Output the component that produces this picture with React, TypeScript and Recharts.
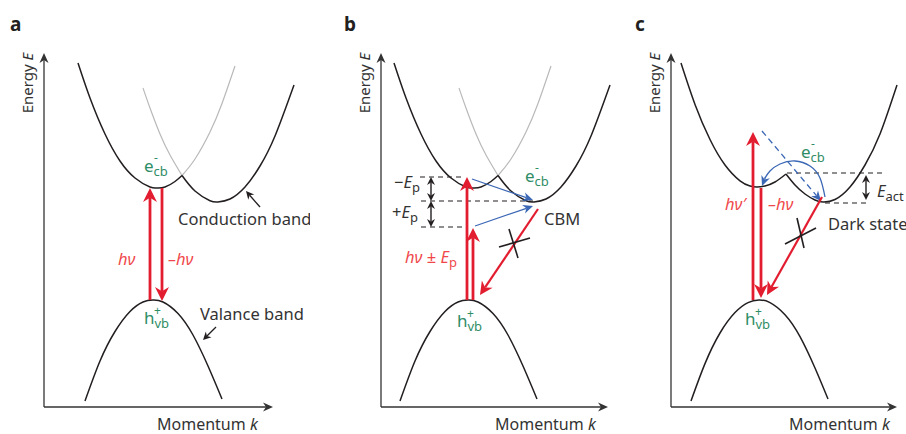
import { LineChart, Line, XAxis, YAxis, ReferenceLine, ReferenceDot } from "recharts";

// units: k = momentum, E = energy, both measured from each panel's origin
type Pt = { k: number; E: number };
type Seg = { k1: number; E1: number; k2: number; E2: number };
type Lbl = { type: string; k: number; E: number; text: string };

const FONT = '"Noto Sans", "Open Sans", sans-serif';
const INK = "#231f20";
const TEXT = "#333333";
const GREY = "#b9b9b9";
const RED = "#e21d30";
const RED_TEXT = "#f0484a";
const GREEN = "#2f8d66";
const BLUE = "#3b67b5";

// ---------- panel a ----------
const aCbLeft: Pt[] = [
  { k: 34, E: 344 }, { k: 46, E: 309 }, { k: 61, E: 273 }, { k: 76, E: 246 }, { k: 91, E: 229 },
  { k: 106, E: 220 }, { k: 113, E: 219 }, { k: 121, E: 220 }, { k: 131, E: 225.5 }, { k: 138, E: 231.5 },
];
const aCbRight: Pt[] = [
  { k: 138, E: 231.5 }, { k: 151, E: 216 }, { k: 166, E: 206.3 }, { k: 174, E: 205 }, { k: 186, E: 208 },
  { k: 201, E: 220 }, { k: 216, E: 241 }, { k: 231, E: 271 }, { k: 250, E: 322 },
];
const aGhost1: Pt[] = [{ k: 138, E: 231.5 }, { k: 151, E: 248 }, { k: 166, E: 275 }, { k: 178, E: 303.5 }, { k: 191, E: 341 }];
const aGhost2: Pt[] = [{ k: 138, E: 231.5 }, { k: 126, E: 252 }, { k: 116, E: 273 }, { k: 106, E: 299 }, { k: 99, E: 319 }];
const aVb: Pt[] = [
  { k: 41, E: 6 }, { k: 56, E: 46 }, { k: 71, E: 75.5 }, { k: 86, E: 95.5 }, { k: 99, E: 105 }, { k: 109, E: 107 },
  { k: 119, E: 105 }, { k: 134, E: 93.5 }, { k: 149, E: 72 }, { k: 164, E: 41 }, { k: 178, E: 8 },
];
const aPhoton: Seg[] = [
  { k1: 106, E1: 107, k2: 106, E2: 219 },
  { k1: 118, E1: 219, k2: 118, E2: 106 },
];
const aPointer: Seg[] = [
  { k1: 216, E1: 200, k2: 202, E2: 216 },
  { k1: 172, E1: 80, k2: 159, E2: 67 },
];
const aLabels: Lbl[] = [
  { type: "letter", k: -34, E: 376, text: "a" },
  { type: "energy", k: -11, E: 324, text: "Energy" },
  { type: "momentum", k: 113, E: -23, text: "Momentum" },
  { type: "ecb", k: 100, E: 235, text: "e" },
  { type: "plain", k: 134, E: 182, text: "Conduction band" },
  { type: "red", k: 74, E: 142, text: "hν" },
  { type: "red", k: 124, E: 142, text: "–hν" },
  { type: "plain", k: 156, E: 87, text: "Valance band" },
  { type: "hvb", k: 100, E: 83, text: "h" },
];

// ---------- panel b ----------
const bCbLeft: Pt[] = [
  { k: 13, E: 344 }, { k: 25, E: 309 }, { k: 40, E: 273 }, { k: 55, E: 246 }, { k: 70, E: 229 },
  { k: 85, E: 220 }, { k: 92, E: 219 }, { k: 100, E: 220 }, { k: 110, E: 225.5 }, { k: 117, E: 231.5 },
];
const bCbRight: Pt[] = [
  { k: 117, E: 231.5 }, { k: 130, E: 216 }, { k: 145, E: 206.3 }, { k: 153, E: 205 }, { k: 165, E: 208 },
  { k: 180, E: 220 }, { k: 195, E: 241 }, { k: 210, E: 271 }, { k: 229, E: 322 },
];
const bGhost1: Pt[] = [{ k: 117, E: 231.5 }, { k: 130, E: 248 }, { k: 145, E: 275 }, { k: 157, E: 303.5 }, { k: 170, E: 341 }];
const bGhost2: Pt[] = [{ k: 117, E: 231.5 }, { k: 105, E: 252 }, { k: 95, E: 273 }, { k: 85, E: 299 }, { k: 78, E: 319 }];
const bVb: Pt[] = [
  { k: 19, E: 6 }, { k: 34, E: 46 }, { k: 49, E: 75.5 }, { k: 64, E: 95.5 }, { k: 77, E: 105 }, { k: 87, E: 107 },
  { k: 97, E: 105 }, { k: 112, E: 93.5 }, { k: 127, E: 72 }, { k: 142, E: 41 }, { k: 156, E: 8 },
];
const bPhoton: Seg[] = [
  { k1: 86, E1: 107, k2: 86, E2: 230 },
  { k1: 92, E1: 107, k2: 92, E2: 179 },
];
const bDiag: Seg[] = [{ k1: 157, E1: 198, k2: 99, E2: 112 }];
const bBlue: Seg[] = [
  { k1: 91, E1: 228, k2: 152, E2: 207 },
  { k1: 94, E1: 181, k2: 152, E2: 201 },
];
const bLevels: Seg[] = [
  { k1: 39, E1: 230, k2: 84, E2: 230 },
  { k1: 40, E1: 206, k2: 152, E2: 206 },
  { k1: 40, E1: 180, k2: 81, E2: 180 },
];
const bDouble: Seg[] = [
  { k1: 50, E1: 230, k2: 50, E2: 206 },
  { k1: 50, E1: 206, k2: 50, E2: 180 },
];
const bCross: Seg[] = [
  { k1: 118, E1: 160, k2: 149, E2: 169 },
  { k1: 128, E1: 178, k2: 137, E2: 149 },
];
const bLabels: Lbl[] = [
  { type: "letter", k: -37, E: 376, text: "b" },
  { type: "energy", k: -11, E: 324, text: "Energy" },
  { type: "momentum", k: 114, E: -23, text: "Momentum" },
  { type: "ep", k: 39, E: 219, text: "−" },
  { type: "ep", k: 37, E: 189, text: "+" },
  { type: "ecb", k: 144, E: 225, text: "e" },
  { type: "plain", k: 163, E: 182, text: "CBM" },
  { type: "redEp", k: 24, E: 144, text: "hν ± " },
  { type: "hvb", k: 76, E: 80, text: "h" },
];

// ---------- panel c ----------
const cCbLeft: Pt[] = [
  { k: 10, E: 344 }, { k: 24, E: 302.6 }, { k: 39, E: 267.5 }, { k: 54, E: 242 }, { k: 69, E: 226.2 },
  { k: 79, E: 221 }, { k: 86, E: 220 }, { k: 94, E: 221 }, { k: 104, E: 225 }, { k: 115, E: 233 },
];
const cCbRight: Pt[] = [
  { k: 115, E: 233 }, { k: 124, E: 222 }, { k: 134, E: 213 }, { k: 144, E: 207 }, { k: 152, E: 205 },
  { k: 164, E: 207.5 }, { k: 179, E: 220 }, { k: 194, E: 242 }, { k: 209, E: 273 }, { k: 226, E: 322 },
];
const cVb: Pt[] = [
  { k: 20, E: 6 }, { k: 34, E: 43.4 }, { k: 49, E: 74 }, { k: 64, E: 94.4 }, { k: 77, E: 104.4 }, { k: 88, E: 107 },
  { k: 99, E: 104.4 }, { k: 114, E: 92.3 }, { k: 129, E: 70.4 }, { k: 144, E: 39 }, { k: 157, E: 8 },
];
const cPhoton: Seg[] = [
  { k1: 82, E1: 107, k2: 82, E2: 275 },
  { k1: 90, E1: 219, k2: 90, E2: 109 },
];
const cDiag: Seg[] = [{ k1: 151, E1: 210, k2: 96, E2: 112 }];
const cBlueDashed: Seg[] = [{ k1: 91, E1: 276, k2: 150, E2: 206 }];
const cArc: Pt[] = [
  { k: 154, E: 210 }, { k: 149, E: 229 }, { k: 139, E: 241 }, { k: 124, E: 246 },
  { k: 109, E: 243 }, { k: 99, E: 236 }, { k: 94, E: 229 },
];
const cArcHead: Seg[] = [{ k1: 94.5, E1: 230, k2: 91, E2: 221 }];
const cLevels: Seg[] = [
  { k1: 116, E1: 234, k2: 211, E2: 234 },
  { k1: 154, E1: 204, k2: 199, E2: 204 },
];
const cDouble: Seg[] = [{ k1: 195, E1: 232, k2: 195, E2: 207 }];
const cCross: Seg[] = [
  { k1: 114, E1: 163, k2: 145, E2: 179 },
  { k1: 126, E1: 189, k2: 133, E2: 159 },
];
const cLabels: Lbl[] = [
  { type: "letter", k: -36, E: 376, text: "c" },
  { type: "energy", k: -11, E: 324, text: "Energy" },
  { type: "momentum", k: 118, E: -23, text: "Momentum" },
  { type: "ecb", k: 130, E: 249, text: "e" },
  { type: "eact", k: 206, E: 210, text: "E" },
  { type: "plain", k: 157, E: 177, text: "Dark state" },
  { type: "red", k: 54, E: 197, text: "hν′" },
  { type: "red", k: 97, E: 197, text: "–hν" },
  { type: "hvb", k: 74, E: 82, text: "h" },
];

// axis arrow ends (E top, k end)
const axisTop = [354, 354, 354];
const axisEnd = [229, 227, 226];

const arrowShape =
  (color: string, w: number, L: number, H: number, both = false, dash?: string) =>
  (p: any) => {
    const { x1, y1, x2, y2 } = p;
    const dx = x2 - x1;
    const dy = y2 - y1;
    const len = Math.hypot(dx, dy) || 1;
    const ux = dx / len;
    const uy = dy / len;
    const nx = -uy;
    const ny = ux;
    const head = (tx: number, ty: number, sx: number, sy: number) => {
      const bx = tx - sx * L;
      const by = ty - sy * L;
      const mx = tx - sx * L * 0.7;
      const my = ty - sy * L * 0.7;
      return `${tx},${ty} ${bx + nx * H},${by + ny * H} ${mx},${my} ${bx - nx * H},${by - ny * H}`;
    };
    const sx = both ? x1 + ux * L * 0.7 : x1;
    const sy = both ? y1 + uy * L * 0.7 : y1;
    return (
      <g>
        <line
          x1={sx}
          y1={sy}
          x2={x2 - ux * L * 0.7}
          y2={y2 - uy * L * 0.7}
          stroke={color}
          strokeWidth={w}
          strokeDasharray={dash}
        />
        <polygon points={head(x2, y2, ux, uy)} fill={color} />
        {both && <polygon points={head(x1, y1, -ux, -uy)} fill={color} />}
      </g>
    );
  };

const plainShape = (color: string, w: number, dash?: string) => (p: any) =>
  <line x1={p.x1} y1={p.y1} x2={p.x2} y2={p.y2} stroke={color} strokeWidth={w} strokeDasharray={dash} />;

function renderLabel(l: Lbl) {
  return (p: any) => {
    const x = p.cx;
    const y = p.cy;
    const base = { fontFamily: FONT, fontSize: 16.5 };
    switch (l.type) {
      case "letter":
        return <text x={x} y={y} {...base} fontSize={19} fontWeight="bold" fill={INK}>{l.text}</text>;
      case "energy":
        return (
          <text x={x} y={y} {...base} fontSize={15} fill={TEXT} textAnchor="middle" transform={`rotate(-90 ${x} ${y})`}>
            {l.text} <tspan fontStyle="italic">E</tspan>
          </text>
        );
      case "momentum":
        return (
          <text x={x} y={y} {...base} fontSize={16} fill={TEXT}>
            {l.text} <tspan fontStyle="italic">k</tspan>
          </text>
        );
      case "plain":
        return <text x={x} y={y} {...base} fill={TEXT}>{l.text}</text>;
      case "red":
        return <text x={x} y={y} {...base} fill={RED_TEXT} fontStyle="italic">{l.text}</text>;
      case "redEp":
        return (
          <text x={x} y={y} {...base} fill={RED_TEXT}>
            <tspan fontStyle="italic">hν</tspan> ± <tspan fontStyle="italic">E</tspan>
            <tspan fontSize={13} dy={4}>p</tspan>
          </text>
        );
      case "ep":
        return (
          <text x={x} y={y} {...base} fill={TEXT} textAnchor="end">
            {l.text}
            <tspan fontStyle="italic">E</tspan>
            <tspan fontSize={13} dy={4}>p</tspan>
          </text>
        );
      case "eact":
        return (
          <text x={x} y={y} {...base} fill={TEXT}>
            <tspan fontStyle="italic">E</tspan>
            <tspan fontSize={13} dy={4}>act</tspan>
          </text>
        );
      case "ecb":
        return (
          <g fill={GREEN} fontFamily={FONT}>
            <text x={x} y={y} fontSize={17}>
              e<tspan fontSize={13} dy={4}>cb</tspan>
            </text>
            <text x={x + 10} y={y - 10} fontSize={12}>-</text>
          </g>
        );
      case "hvb":
        return (
          <g fill={GREEN} fontFamily={FONT}>
            <text x={x} y={y} fontSize={17}>
              h<tspan fontSize={13} dy={4}>vb</tspan>
            </text>
            <text x={x + 10} y={y - 9} fontSize={12}>+</text>
          </g>
        );
      default:
        return <g />;
    }
  };
}

type PanelProps = {
  idx: number;
  left: number;
  black: Pt[][];
  ghost: Pt[][];
  photon: Seg[];
  diag: Seg[];
  blue: Seg[];
  blueDashed: Seg[];
  arc: Pt[];
  arcHead: Seg[];
  levels: Seg[];
  doubles: Seg[];
  pointers: Seg[];
  crosses: Seg[];
  labels: Lbl[];
};

function seg(s: Seg) {
  return [
    { x: s.k1, y: s.E1 },
    { x: s.k2, y: s.E2 },
  ];
}

function Panel(p: PanelProps) {
  return (
    <div style={{ position: "absolute", left: p.left, top: 0 }}>
      <LineChart width={310} height={434} margin={{ top: 0, right: 0, bottom: 0, left: 0 }}>
        <XAxis type="number" dataKey="k" domain={[-44, 266]} hide allowDataOverflow />
        <YAxis type="number" dataKey="E" domain={[-27, 407]} hide allowDataOverflow />
        <ReferenceLine
          segment={[{ x: 0, y: 0 }, { x: 0, y: axisTop[p.idx] }]}
          shape={arrowShape("#333", 1.3, 10, 4.5)}
        />
        <ReferenceLine
          segment={[{ x: 0, y: 0 }, { x: axisEnd[p.idx], y: 0 }]}
          shape={arrowShape("#333", 1.3, 10, 4.5)}
        />
        {p.ghost.map((d, i) => (
          <Line key={"g" + i} data={d} dataKey="E" type="natural" stroke={GREY} strokeWidth={1.2} dot={false} activeDot={false} isAnimationActive={false} />
        ))}
        {p.black.map((d, i) => (
          <Line key={"b" + i} data={d} dataKey="E" type="natural" stroke={INK} strokeWidth={1.5} dot={false} activeDot={false} isAnimationActive={false} />
        ))}
        {p.levels.map((s, i) => (
          <ReferenceLine key={"l" + i} segment={seg(s)} shape={plainShape(INK, 1.2, "5 4")} />
        ))}
        {p.doubles.map((s, i) => (
          <ReferenceLine key={"d" + i} segment={seg(s)} shape={arrowShape(INK, 1.4, 8, 4, true)} />
        ))}
        {p.pointers.map((s, i) => (
          <ReferenceLine key={"p" + i} segment={seg(s)} shape={arrowShape(INK, 1.3, 8, 4)} />
        ))}
        {p.blue.map((s, i) => (
          <ReferenceLine key={"bl" + i} segment={seg(s)} shape={arrowShape(BLUE, 1.3, 10, 4.5)} />
        ))}
        {p.blueDashed.map((s, i) => (
          <ReferenceLine key={"bd" + i} segment={seg(s)} shape={arrowShape(BLUE, 1.3, 10, 4.5, false, "6 4")} />
        ))}
        {p.arc.length > 0 && (
          <Line data={p.arc} dataKey="E" type="natural" stroke={BLUE} strokeWidth={1.3} dot={false} activeDot={false} isAnimationActive={false} />
        )}
        {p.arcHead.map((s, i) => (
          <ReferenceLine key={"ah" + i} segment={seg(s)} shape={arrowShape(BLUE, 1.3, 10, 4.5)} />
        ))}
        {p.photon.map((s, i) => (
          <ReferenceLine key={"r" + i} segment={seg(s)} shape={arrowShape(RED, 2.8, 14, 7)} />
        ))}
        {p.diag.map((s, i) => (
          <ReferenceLine key={"rd" + i} segment={seg(s)} shape={arrowShape(RED, 2.2, 13, 6.5)} />
        ))}
        {p.crosses.map((s, i) => (
          <ReferenceLine key={"x" + i} segment={seg(s)} shape={plainShape(INK, 1.6)} />
        ))}
        {p.labels.map((l, i) => (
          <ReferenceDot key={"t" + i} x={l.k} y={l.E} r={0} shape={renderLabel(l)} />
        ))}
      </LineChart>
    </div>
  );
}

export default function App() {
  return (
    <div
      style={{
        position: "fixed",
        left: 0,
        top: 0,
        width: 906,
        height: 434,
        overflow: "hidden",
        background: "#fff",
      }}
    >
      <Panel
        idx={0}
        left={0}
        black={[aCbLeft, aCbRight, aVb]}
        ghost={[aGhost1, aGhost2]}
        photon={aPhoton}
        diag={[]}
        blue={[]}
        blueDashed={[]}
        arc={[]}
        arcHead={[]}
        levels={[]}
        doubles={[]}
        pointers={aPointer}
        crosses={[]}
        labels={aLabels}
      />
      <Panel
        idx={1}
        left={337}
        black={[bCbLeft, bCbRight, bVb]}
        ghost={[bGhost1, bGhost2]}
        photon={bPhoton}
        diag={bDiag}
        blue={bBlue}
        blueDashed={[]}
        arc={[]}
        arcHead={[]}
        levels={bLevels}
        doubles={bDouble}
        pointers={[]}
        crosses={bCross}
        labels={bLabels}
      />
      <Panel
        idx={2}
        left={627}
        black={[cCbLeft, cCbRight, cVb]}
        ghost={[]}
        photon={cPhoton}
        diag={cDiag}
        blue={[]}
        blueDashed={cBlueDashed}
        arc={cArc}
        arcHead={cArcHead}
        levels={cLevels}
        doubles={cDouble}
        pointers={[]}
        crosses={cCross}
        labels={cLabels}
      />
    </div>
  );
}
